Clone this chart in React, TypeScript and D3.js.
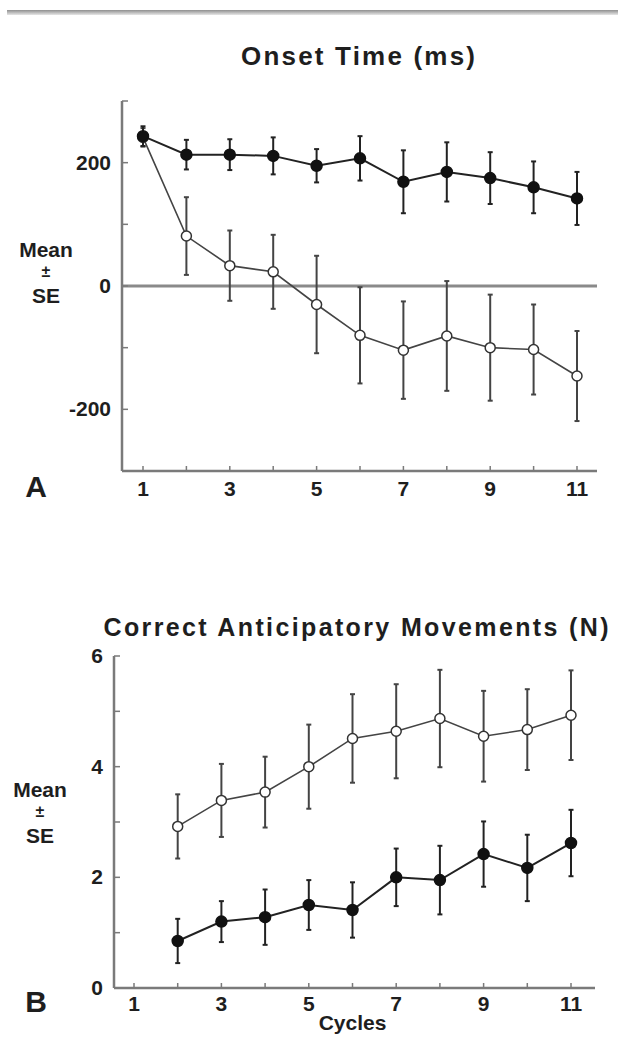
import * as d3 from "d3";

// panel A: onset time (ms)
const cyclesA = [1, 2, 3, 4, 5, 6, 7, 8, 9, 10, 11];
const onsetFilled = [243, 213, 213, 211, 195, 207, 169, 185, 175, 160, 142];
const onsetFilledSE = [16, 24, 25, 30, 27, 36, 51, 48, 42, 42, 43];
const onsetOpen = [241, 81, 33, 23, -30, -80, -104, -81, -100, -103, -146];
const onsetOpenSE = [15, 63, 57, 60, 79, 78, 79, 89, 86, 73, 73];
const ticksA = [-300, -200, -100, 0, 100, 200, 300];
const tickLabelsA = [-200, 0, 200];

// panel B: correct anticipatory movements (N)
const cyclesB = [2, 3, 4, 5, 6, 7, 8, 9, 10, 11];
const correctOpen = [2.92, 3.39, 3.54, 4.0, 4.51, 4.64, 4.87, 4.55, 4.67, 4.93];
const correctOpenSE = [0.58, 0.66, 0.64, 0.76, 0.8, 0.85, 0.88, 0.82, 0.73, 0.81];
const correctFilled = [0.85, 1.2, 1.28, 1.5, 1.41, 2.0, 1.95, 2.42, 2.17, 2.62];
const correctFilledSE = [0.4, 0.37, 0.5, 0.45, 0.5, 0.52, 0.62, 0.59, 0.6, 0.6];
const ticksB = [0, 1, 2, 3, 4, 5, 6];
const tickLabelsB = [0, 2, 4, 6];

const xTicks = [1, 2, 3, 4, 5, 6, 7, 8, 9, 10, 11];
const xTickLabels = [1, 3, 5, 7, 9, 11];

const font = "'Liberation Sans', Arial, sans-serif";
const ink = "#1e1e1e";
const axisColor = "#7a7a7a";

function Series(props) {
  const { xs, ys, se, x, y, open, lineColor, barColor } = props;
  const pts = xs.map((c, i) => [x(c), y(ys[i])]);
  const line = d3.line();
  return (
    <g>
      {xs.map((c, i) => {
        const cx = x(c);
        const y1 = y(ys[i] + se[i]);
        const y2 = y(ys[i] - se[i]);
        return (
          <g key={"e" + i} stroke={barColor} strokeWidth="2">
            <line x1={cx} x2={cx} y1={y1} y2={y2} />
            <line x1={cx - 2.5} x2={cx + 2.5} y1={y1} y2={y1} />
            <line x1={cx - 2.5} x2={cx + 2.5} y1={y2} y2={y2} />
          </g>
        );
      })}
      <path d={line(pts)} fill="none" stroke={lineColor} strokeWidth={open ? 1.6 : 2} />
      {pts.map((p, i) => (
        <circle key={"c" + i} cx={p[0]} cy={p[1]} r={open ? 5 : 5.5}
          fill={open ? "#fff" : "#111"} stroke={open ? "#333" : "#111"} strokeWidth="1.5" />
      ))}
    </g>
  );
}

function Panel(props) {
  const { x, y, x0, x1, yTicks, yLabels, letter, title, titleX, titleY, titleSize, titleLen,
    meanX, meanY, showZero, xLabel, labelOffset } = props;
  const yBottom = y.range()[0];
  const yTop = y.range()[1];
  const labelRight = x0 - 11;
  return (
    <g fontFamily={font} fontWeight="bold" fill={ink}>
      <text x={titleX} y={titleY} fontSize={titleSize} textAnchor="middle"
        textLength={titleLen} lengthAdjust="spacing">{title}</text>
      {showZero && (
        <line x1={x0} x2={x1} y1={y(0)} y2={y(0)} stroke="#8a8a8a" strokeWidth="3" />
      )}
      <line x1={x0} x2={x0} y1={yTop} y2={yBottom} stroke={axisColor} strokeWidth="2.5" />
      <line x1={x0} x2={x1} y1={yBottom} y2={yBottom} stroke={axisColor} strokeWidth="2.5" />
      {yTicks.map((t) => (
        <line key={"yt" + t} x1={x0} x2={x0 + 6} y1={y(t)} y2={y(t)} stroke={axisColor} strokeWidth="1.5" />
      ))}
      {xTicks.map((t) => (
        <line key={"xt" + t} x1={x(t)} x2={x(t)} y1={yBottom} y2={yBottom - 5} stroke={axisColor} strokeWidth="1.5" />
      ))}
      {yLabels.map((t) => (
        <text key={"yl" + t} x={labelRight} y={y(t) + 7} fontSize="21" textAnchor="end">{t}</text>
      ))}
      {xTickLabels.map((t) => (
        <text key={"xl" + t} x={x(t)} y={yBottom + labelOffset} fontSize="21" textAnchor="middle">{t}</text>
      ))}
      <text x={meanX} y={meanY} fontSize="21" textAnchor="middle">Mean</text>
      <text x={meanX} y={meanY + 20} fontSize="16" textAnchor="middle">±</text>
      <text x={meanX} y={meanY + 46} fontSize="21" textAnchor="middle">SE</text>
      <text x="36" y={yBottom + labelOffset + 1} fontSize="30" textAnchor="middle">{letter}</text>
      {xLabel && (
        <text x={x(6)} y={yBottom + labelOffset + 19} fontSize="21" textAnchor="middle">{xLabel}</text>
      )}
      {props.children}
    </g>
  );
}

export default function App() {
  const xA = d3.scaleLinear().domain([1, 11]).range([143, 577]);
  const yA = d3.scaleLinear().domain([-300, 300]).range([471, 101]);
  const xB = d3.scaleLinear().domain([1, 11]).range([134, 571]);
  const yB = d3.scaleLinear().domain([0, 6]).range([988, 656]);

  return (
    <svg width={618} height={1062} style={{ position: "absolute", left: 0, top: 0, background: "#fff" }}>
      <defs>
        <linearGradient id="topbar" x1="0" y1="0" x2="0" y2="1">
          <stop offset="0" stopColor="#8f8f8f" />
          <stop offset="1" stopColor="#e6e6e6" />
        </linearGradient>
      </defs>
      <rect x="0" y="0" width="618" height="1062" fill="#fff" />
      <rect x="7" y="10" width="611" height="5" fill="url(#topbar)" />

      <Panel x={xA} y={yA} x0={122} x1={597} yTicks={ticksA} yLabels={tickLabelsA}
        letter="A" title="Onset Time (ms)" titleX={358} titleY={65} titleSize={26} titleLen={234}
        meanX={46} meanY={257} showZero={true} labelOffset={25}>
        <Series xs={cyclesA} ys={onsetOpen} se={onsetOpenSE} x={xA} y={yA} open={true}
          lineColor="#444" barColor="#444" />
        <Series xs={cyclesA} ys={onsetFilled} se={onsetFilledSE} x={xA} y={yA} open={false}
          lineColor="#222" barColor="#222" />
      </Panel>

      <Panel x={xB} y={yB} x0={114} x1={595} yTicks={ticksB} yLabels={tickLabelsB}
        letter="B" title="Correct Anticipatory Movements (N)" titleX={356} titleY={636} titleSize={25}
        titleLen={505} meanX={40} meanY={797} showZero={false} xLabel="Cycles" labelOffset={23}>
        <Series xs={cyclesB} ys={correctOpen} se={correctOpenSE} x={xB} y={yB} open={true}
          lineColor="#444" barColor="#444" />
        <Series xs={cyclesB} ys={correctFilled} se={correctFilledSE} x={xB} y={yB} open={false}
          lineColor="#222" barColor="#222" />
      </Panel>
    </svg>
  );
}
